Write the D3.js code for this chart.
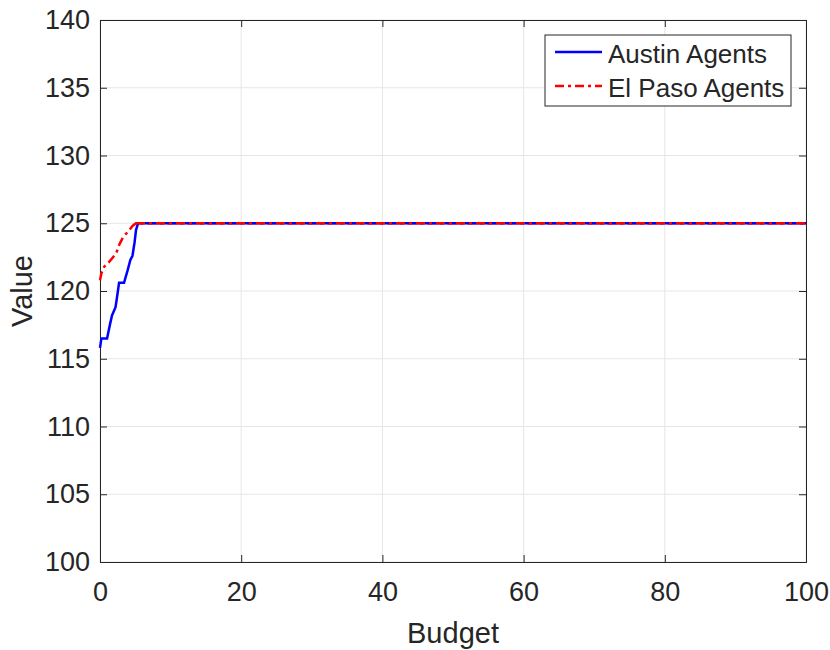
<!DOCTYPE html>
<html><head><meta charset="utf-8">
<script src="https://cdn.jsdelivr.net/npm/d3@7"></script>
<style>body{margin:0;background:#fff}svg{display:block}text{font-family:"Liberation Sans",Arial,sans-serif;fill:#262626}</style>
</head><body>
<script>
const xTicks = [0,20,40,60,80,100];
const yTicks = [100,105,110,115,120,125,130,135,140];
const austinBudget = [0,0.2,1.0,1.4,1.7,2.2,2.4,2.7,3.4,3.9,4.3,4.6,4.9,5.1,5.4,100];
const austinValue  = [115.8,116.5,116.5,117.5,118.2,118.8,119.5,120.6,120.6,121.5,122.3,122.6,123.6,124.5,125,125];
const elpasoBudget = [0,0.2,0.6,1.2,1.7,2.3,2.8,3.3,4.0,4.6,5.1,100];
const elpasoValue  = [120.8,121.3,121.8,122.1,122.4,122.8,123.5,124.0,124.4,124.8,125,125];
const seriesNames = ["Austin Agents","El Paso Agents"];

const W=830,H=650, L=100, R=806, T=20, B=562;
const svg=d3.select("body").append("svg").attr("width",W).attr("height",H);
const x=d3.scaleLinear().domain([0,100]).range([L,R]);
const y=d3.scaleLinear().domain([100,140]).range([B,T]);

// grid
svg.append("g").selectAll("line").data(xTicks).join("line")
  .attr("x1",d=>x(d)).attr("x2",d=>x(d)).attr("y1",T).attr("y2",B)
  .attr("stroke","#e6e6e6").attr("stroke-width",1);
svg.append("g").selectAll("line").data(yTicks).join("line")
  .attr("y1",d=>y(d)).attr("y2",d=>y(d)).attr("x1",L).attr("x2",R)
  .attr("stroke","#e6e6e6").attr("stroke-width",1);

// axes
const xAx=svg.append("g").attr("transform",`translate(0,${B})`)
  .call(d3.axisBottom(x).tickValues(xTicks).tickSize(-7).tickPadding(20));
const yAx=svg.append("g").attr("transform",`translate(${L},0)`)
  .call(d3.axisLeft(y).tickValues(yTicks).tickSize(-7).tickPadding(10));
[xAx,yAx].forEach(a=>{a.select(".domain").attr("stroke","#262626");a.selectAll(".tick line").attr("stroke","#262626");
  a.selectAll("text").attr("font-size",27).attr("font-family","Liberation Sans, Arial, sans-serif").attr("fill","#262626");});
// top & right
const tAx=svg.append("g").attr("transform",`translate(0,${T})`).call(d3.axisTop(x).tickValues(xTicks).tickSize(-7).tickFormat(""));
const rAx=svg.append("g").attr("transform",`translate(${R},0)`).call(d3.axisRight(y).tickValues(yTicks).tickSize(-7).tickFormat(""));
[tAx,rAx].forEach(a=>{a.select(".domain").attr("stroke","#262626");a.selectAll(".tick line").attr("stroke","#262626");});

// lines
const line=d3.line().x(d=>x(d[0])).y(d=>y(d[1]));
svg.append("path").datum(elpasoBudget.map((b,i)=>[b,elpasoValue[i]]))
  .attr("d",line).attr("fill","none").attr("stroke","#ff0000").attr("stroke-width",2.5)
  .attr("stroke-dasharray","9,4,3,4");
svg.append("path").datum(austinBudget.map((b,i)=>[b,austinValue[i]]))
  .attr("d",line).attr("fill","none").attr("stroke","#0000ff").attr("stroke-width",2.5);
// red dashed drawn again over the shared flat section so both appear
svg.append("path").datum(elpasoBudget.map((b,i)=>[b,elpasoValue[i]]).slice(-2))
  .attr("d",line).attr("fill","none").attr("stroke","#ff0000").attr("stroke-width",2.5)
  .attr("stroke-dasharray","9,4,3,4");

// labels
svg.append("text").attr("x",(L+R)/2).attr("y",643).attr("text-anchor","middle").attr("font-size",29).text("Budget");
svg.append("text").attr("transform",`translate(32,${(T+B)/2}) rotate(-90)`).attr("text-anchor","middle").attr("font-size",29).text("Value");

// legend
const lg=svg.append("g");
lg.append("rect").attr("x",545).attr("y",35).attr("width",246).attr("height",71)
  .attr("fill","#fff").attr("stroke","#262626").attr("stroke-width",1);
const lc=["#0000ff","#ff0000"], ld=[null,"9,4,3,4"], ly=[52,86];
seriesNames.forEach((n,i)=>{
  lg.append("line").attr("x1",555).attr("x2",602).attr("y1",ly[i]).attr("y2",ly[i])
    .attr("stroke",lc[i]).attr("stroke-width",2.5).attr("stroke-dasharray",ld[i]);
  lg.append("text").attr("x",608).attr("y",ly[i]+11).attr("font-size",26).attr("fill","#000").text(n);
});
</script>
</body></html>
